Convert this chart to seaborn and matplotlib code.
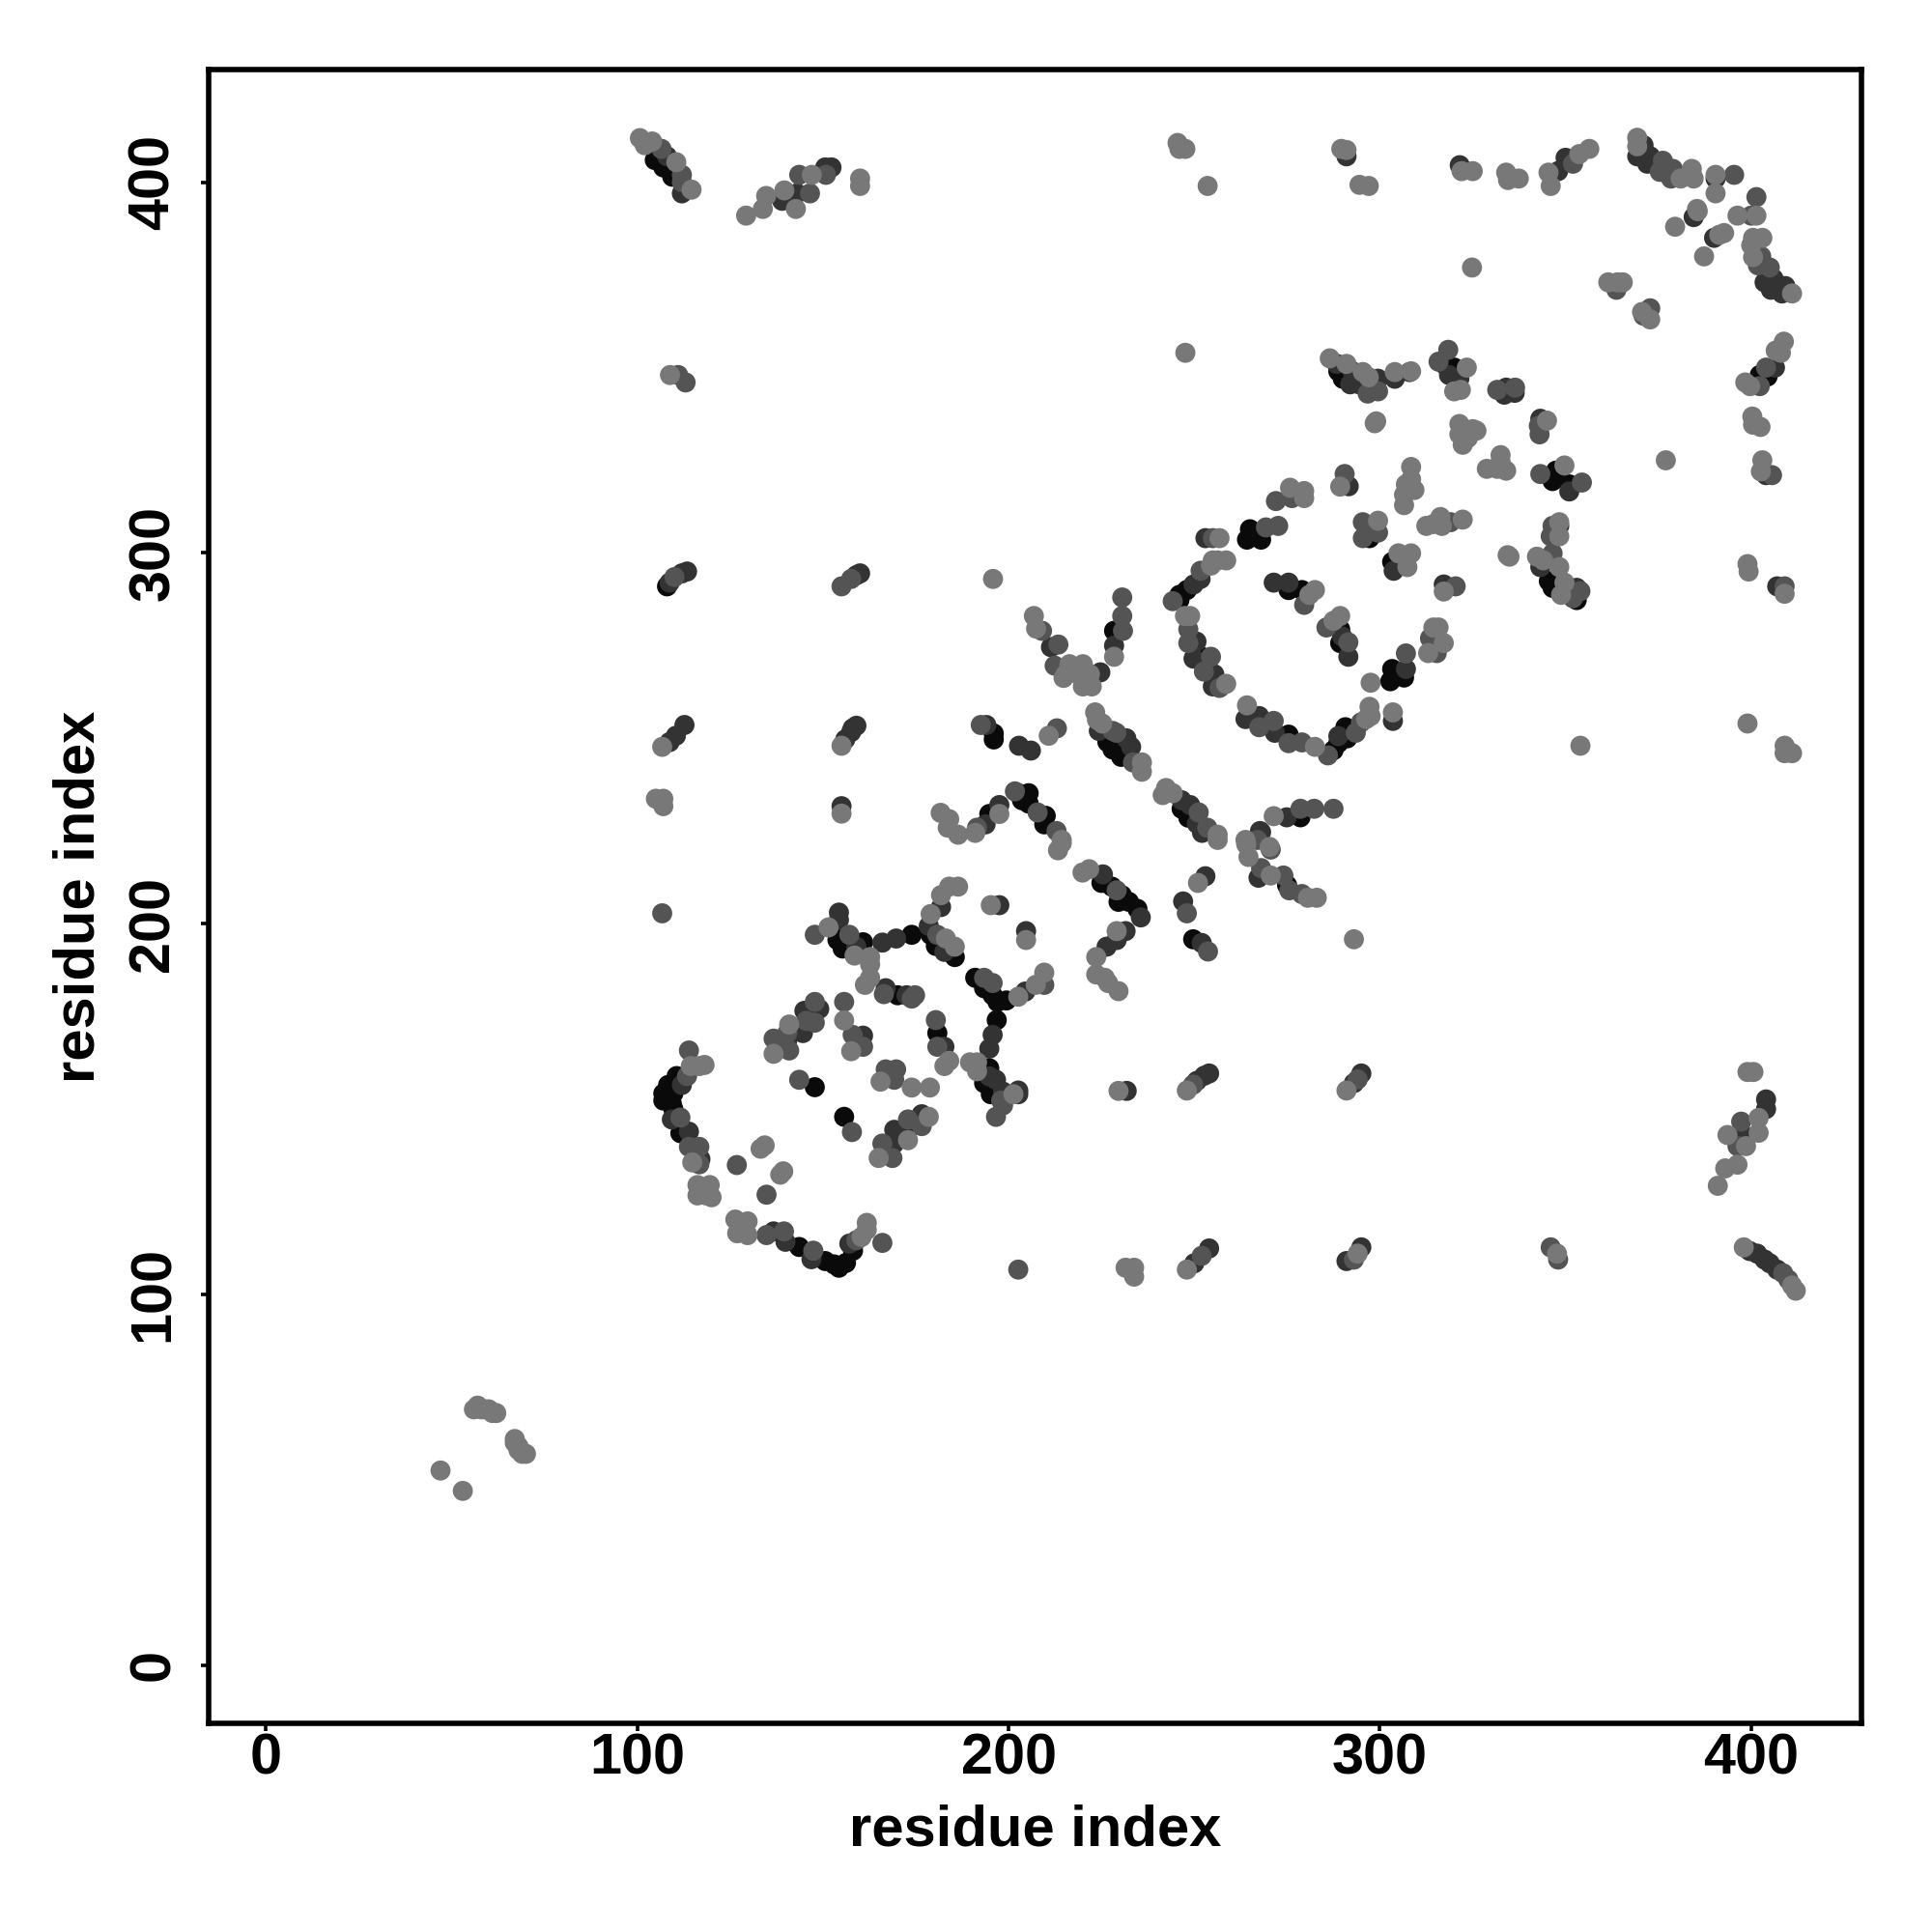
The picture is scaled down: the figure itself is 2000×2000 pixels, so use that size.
import matplotlib
matplotlib.use("Agg")
import matplotlib.pyplot as plt
import pandas as pd
import seaborn as sns

# grey levels of the points
K, D, M, G = 0.04, 0.2, 0.33, 0.47

low_x = [47, 53, 56, 57, 58, 59, 60, 61, 62, 67, 67, 68, 68, 69, 70]
low_y = [52.5, 47, 69, 70, 69, 69, 69, 68, 68, 61, 60, 59, 58, 57, 57]
low_s = [G, G, G, G, G, G, G, G, G, G, G, G, G, G, G]

# bottom arc
bot_x = [126.4, 129.7, 126.9, 129.7, 134.8, 136.7, 139.5, 139.9, 143.6, 147.4, 146.9, 150.6, 153, 154.3, 156.2, 158.1, 157.1, 159, 160.4, 161.8, 161.8, 166]
bot_y = [120.2, 119.7, 116.5, 116, 116, 117, 117, 114.2, 112.8, 111.8, 109.5, 109, 108.1, 107.2, 108.5, 111.8, 113.7, 114.6, 115.5, 117.4, 119.3, 113.9]
bot_s = [G, G, G, G, M, D, M, D, K, M, D, K, K, K, K, K, D, M, G, G, G, M]

# top row, left half
top_x = [100.7, 104, 102, 106.5, 104.7, 108, 107, 110.5, 109.4, 112, 112, 114.6, 112,
         129.3, 133.8, 134.7, 139, 139.6, 142.7, 143, 146.5, 143.6, 147, 150.8, 150.6, 152.3, 160, 160,
         245.5, 246, 247.6, 253.6, 247.6, 108.8, 111, 113,
         289.6, 291, 291, 294.5, 297, 321.5, 322, 325, 324.8, 334, 334.5, 337.4,
         345.4, 346, 348, 350, 352, 353.7, 356.4]
top_y = [411.9, 411, 410, 409, 406, 407, 404, 405.4, 401.5, 402, 397, 398, 400,
         391, 392.8, 396.3, 395, 397.8, 392.8, 397, 397, 402, 402, 402, 404, 404, 401, 399,
         410.6, 409, 409, 399, 354, 348, 348, 346,
         409, 408.7, 407, 399.3, 399, 404.6, 403, 403, 377, 402.6, 400.6, 401,
         402.6, 399, 403, 406.6, 405, 407.6, 409]
top_s = [G, G, G, M, K, D, K, G, K, M, D, G, M,
         G, G, G, D, G, G, D, M, M, G, M, D, D, G, G,
         G, G, G, G, G, G, M, M,
         G, G, D, G, G, D, G, G, G, G, G, G,
         G, G, D, D, M, G, G]

# top right corner
cor_x = [369.3, 369.3, 371, 369.3, 372.8, 372, 376.2, 375.4, 378.9, 378.4, 381, 384, 384.5, 384,
         390.4, 390.4, 390.4, 395.4, 401.4, 396.3, 400, 401.4, 379.5, 384.5, 385.4, 385.6, 387.3, 390, 391.4, 392.7,
         400.5, 403, 400, 400.5, 402.7, 401.8, 405, 403.6, 406, 405.3, 409.2, 408.3, 411,
         361.5, 363.7, 364, 365.4, 370.6, 372.8, 372.8, 371,
         408.8, 406.6, 408, 406.4, 404, 402.3, 404.4, 398.4, 399.7, 402.3, 400.3, 400.5, 402.5,
         377, 403, 402.6, 404, 405.6, 399, 399.3, 407, 409, 409, 399, 409, 409, 411, 354]
cor_y = [412, 409.7, 410, 407, 407, 405, 405.8, 402.8, 403.6, 401, 401, 403.6, 401, 402,
         402, 401, 397, 402, 396, 391, 391, 391, 388, 390.6, 392.8, 392.2, 380, 385, 385.8, 386.3,
         385, 385, 383, 379.8, 380, 377.6, 377, 373, 374, 371, 372, 370, 370,
         373, 371, 373, 373, 365, 366, 363, 364,
         357, 354.6, 354, 350, 350, 348, 347.6, 346, 345, 345, 336.8, 334.6, 334,
         325, 325, 322, 321, 321, 297, 295, 291, 291, 289, 254, 248, 246, 246, 248]
cor_s = [G, G, D, D, D, D, M, M, M, M, G, G, G, G,
         G, D, G, M, M, G, M, G, G, D, G, G, G, D, G, G,
         G, G, G, G, M, M, M, D, D, D, D, D, G,
         G, M, G, G, G, M, G, M,
         G, G, G, D, M, K, K, G, G, M, G, G, G,
         G, G, G, D, M, G, G, D, M, G, G, G, G, G, G]

# right block above the diagonal
rig_x = [286.5, 288.4, 288.8, 291, 290, 292.6, 292, 295.4, 294.4, 296.7, 297, 299.5, 299.5, 304, 304, 308, 308.4,
         299, 298.6, 315.8, 317.2, 318.4, 320, 318.6, 321.4, 323.4, 320, 321.8,
         331.6, 334, 333.5, 336.4, 336.3, 321.4, 321.4, 322.3, 325, 326, 323.7,
         332.5, 328.8, 331.6, 334, 332.5, 343.2, 342.8, 343, 345,
         343.2, 347.4, 346.5, 349.7, 351, 351, 354.4, 334.4, 334.9,
         348.3, 346.5, 348.3, 346, 348.3,
         342.3, 344, 343.2, 345.5, 346.5, 346.5, 348.3, 349.7, 348.8, 353, 353, 352, 354,
         317.2, 317.2, 320.4]
rig_y = [352.5, 351, 349, 351, 347, 349, 345.5, 348.8, 345.5, 343, 347.4, 347, 343.6, 348.8, 347, 348.8, 349,
         335.5, 335, 351.6, 351, 354.8, 350, 348, 347, 350, 343.6, 344,
         344, 344.6, 342.7, 344.6, 343.2, 334.8, 332, 329.2, 333.4, 333, 331,
         326.4, 322.7, 322.7, 322.2, 324.6, 336.2, 334.3, 332, 335.7,
         321.3, 322.2, 319.4, 323.6, 318.5, 316.6, 319, 299.4, 299,
         308.3, 307.3, 307.3, 304.5, 304.5,
         299, 298, 296.2, 292.4, 290.6, 299.9, 296.2, 292, 288.7, 287.3, 290.6, 287.8, 289.7,
         289.6, 291.5, 291]
rig_s = [G, D, K, G, K, D, D, G, D, M, G, D, M, G, D, D, G,
         G, G, M, K, M, K, D, D, G, G, G,
         M, D, D, M, D, G, G, G, G, G, G,
         G, G, G, G, G, D, M, M, G,
         M, K, K, G, K, D, M, G, G,
         G, M, D, M, G,
         G, G, D, K, K, M, G, G, G, K, D, M, M,
         G, D, M]

# ring around (280, 275)
rin_x = [244.2, 246, 248, 246, 249.8, 251.7, 251.7, 255, 254.5, 256.3, 258.6, 253, 255, 256.8,
         265, 264.2, 268, 269.3, 272.6, 272, 275.8, 276.3, 279.6, 279.6,
         289.3, 290.5, 291.6, 295.4, 295.4, 297.2, 299.5, 299.5,
         308.4, 307, 308.4, 306.5, 306.5, 309.3,
         312.5, 314.4, 316.3, 316.7, 319, 322.3, 303.3, 303.7, 305, 308.4, 307.4,
         247.5, 248.9, 248.4, 248.4, 250.6, 249.8, 252, 254.5, 252.6, 255.4, 255, 256.8, 258.6,
         263.8, 264.2, 267.5, 268, 271.4, 267.5, 271.7, 275.4, 275.4, 279, 282.5,
         286, 287.5, 288.8, 291.2, 290.7, 288.8, 293.5, 294.9, 296.3, 297.5, 297.2,
         303.5, 303.5, 297.5, 302.8, 303.3, 306.5, 307, 307,
         313, 315.3, 313.5, 317.2, 314.4, 315.8,
         271.4, 275.4, 275.4, 279, 279.6, 281, 282.5,
         285.6, 287.5, 289.3, 289.3, 289.8, 289.3, 291.5, 291.5]
rin_y = [287, 288.7, 290, 287.3, 291.5, 293, 295.2, 298, 296.6, 298, 298, 304, 304, 304,
         306.4, 303.6, 303.6, 306.9, 307.3, 314, 317.6, 314.8, 316.7, 314.8,
         317.9, 321.3, 318, 308.3, 304, 304, 308.7, 305.5,
         323.2, 318.5, 319.9, 315.7, 312.9, 317,
         307.3, 307.8, 309.7, 307.3, 308.3, 309, 297.6, 295.2, 299.9, 299.9, 296.2,
         283, 283, 279.4, 275.7, 276.1, 271.5, 272, 272, 268, 267.3, 264, 263.6, 264.7,
         255.2, 258.9, 256, 254.7, 254.7, 253, 251.5, 251, 248.7, 248.9, 247.7,
         245.4, 246.8, 248.7, 250, 253, 250.6, 251.5, 254.3, 255.2, 256, 258.5,
         254.7, 257, 265, 265.4, 268.7, 266.4, 268.7, 272.9,
         273, 273, 277, 275.7, 279.9, 279.9,
         292, 292, 290, 290, 286, 288.7, 290,
         279.9, 281.7, 283, 279.4, 277.5, 275.7, 275.9, 272]
rin_s = [M, K, K, K, D, D, M, G, G, G, G, D, M, G,
         K, K, K, M, M, M, G, M, G, G,
         G, M, D, M, M, K, G, M,
         G, G, G, G, G, G,
         G, G, G, G, M, G, K, D, G, G, G,
         G, G, M, M, D, D, K, M, M, D, D, M, G,
         D, G, D, K, M, M, D, K, M, M, G,
         M, K, K, K, K, D, M, M, G, G, G,
         D, G, G, K, K, K, D, M,
         G, M, M, G, G, G,
         D, D, K, K, M, G, G,
         M, G, G, K, D, K, M, D]

# middle of the diagonal
mid_x = [206.8, 207.4, 209, 211.4, 213.4, 212.4, 214.8, 217.4, 216.4, 220, 215.4, 218.7, 221.9, 220, 222.4, 224.7,
         230.6, 230.6, 230.8, 228.4, 228.4, 228.4,
         223.3, 223.8, 225.2, 224.3, 228, 226.6, 229, 228, 231.7, 230.3, 233, 233.5, 235.9, 235.9,
         242.4, 241.5, 244.2, 246.6, 246.6, 248.9, 248.4, 251.2, 250.7, 253.5, 252.1, 256.3, 256.3,
         271.4, 274.9, 278.6, 278.6, 282.3, 287.5, 267.7, 268, 263.8, 267, 264, 264.6, 270.3, 270.6, 268,
         270.6, 267.3, 274, 275, 275.6, 279, 283, 280.6,
         251, 253, 247, 248, 249.7, 252, 253.7, 293,
         181.7, 184, 183.6, 186.4, 191, 191.5, 193.8, 194.8, 197.5, 197.5,
         201.7, 202.6, 203.6, 205.4, 205.4, 207.8, 210, 209.6, 212.9, 214.3, 214.3, 213.3,
         219.9, 221.7, 225.4, 225, 227.8, 229.1, 230.5, 229.6, 232.4, 234.7, 235.6,
         231.5, 229.1, 229.1, 226.4, 223.6, 223.6, 225.9, 226.8, 229.6]
mid_y = [283, 279.6, 279, 274.6, 275.3, 269.6, 266.3, 268, 270, 270, 267.3, 267.3, 267.3, 264, 264, 267.8,
         288, 283, 279, 279, 275, 272,
         257, 255, 254, 252, 252, 249, 251.5, 247, 250, 245, 247.7, 243.5, 243.5, 241,
         236.6, 234.7, 235.2, 233.3, 231, 232, 228.6, 230, 227, 225.9, 224.5, 224, 222.6,
         229, 228.7, 228.7, 231, 231, 231, 225, 224.7, 222.6, 222.6, 221.4, 218, 220.7, 220, 215,
         213, 212.4, 213, 210.4, 209, 208, 207, 207,
         211, 212.8, 206, 202.8, 195.8, 194.8, 192.5, 195.8,
         229.9, 228.2, 225.9, 224, 224.5, 225.9, 226.8, 229.6, 232, 229.6,
         235.7, 235.2, 233.3, 235.2, 232.4, 230, 229.1, 226.8, 225, 222.6, 221.7, 219.8,
         213.8, 214.7, 213.3, 211, 210, 209, 207.7, 205.9, 205.9, 204, 201.7,
         198, 198, 195.6, 193.8, 191, 186.3, 185.4, 184, 181.8]
mid_s = [G, G, M, D, M, M, G, G, G, G, G, G, G, G, G, D,
         M, M, M, K, D, G,
         G, G, G, D, M, K, M, K, D, K, D, M, G, G,
         G, G, G, D, K, D, K, M, D, M, D, G, G,
         G, D, K, M, M, M, D, D, G, M, G, G, G, M, M,
         G, D, M, K, M, M, G, G,
         G, D, D, M, K, D, M, G,
         G, G, G, G, G, M, D, K, D, G,
         M, K, K, K, K, M, K, K, M, G, G, G,
         G, G, D, K, K, M, K, K, K, K, D,
         D, G, D, D, G, G, G, G, G]

# loop around (160, 165)
loo_x = [195.2, 197.5, 204.7, 204.7, 154.3, 154.3, 147.8, 151.5, 153.4, 153.9, 157.1, 155.3, 159, 160.8, 158.5, 162.7, 162.7,
         166, 169.7, 173.9, 179, 181.8, 181.8, 184, 186.4, 178.5, 179, 180.8, 183.1, 180.4, 185.5, 182.7, 185.5,
         191, 193.4, 193.4, 195.7, 195.7, 197, 199.4, 202.6, 204.5, 207.3, 209.6, 209.6,
         196.8, 195.7, 194.8, 194.8, 189.6, 191.5, 191.5, 194.8, 193.4, 196.6, 195.2, 198.5, 198, 201.3, 202.6, 202.6, 196.6, 198.5,
         180.4, 180.8, 180.8, 182.7, 182.7, 184,
         161.3, 162.7, 166.9, 166.4, 170.1, 172.5, 174.8, 173.9,
         155.7, 155.7, 158, 160.8, 160.8, 157.6,
         147.8, 149, 145, 145.5, 147.8, 140.9, 140.4, 144.6, 140.4, 136.7, 136.7, 140.9,
         143.6, 147.8, 155.7, 157.8,
         166.9, 169.7, 165.5, 169.2, 173.9, 178.8, 178.5, 176.6, 172.9, 176.6, 173.4, 169.2, 172.9, 169.2, 166, 168.7, 165,
         229.6, 231.8, 202.6, 231.5, 233.8, 233.8]
loo_y = [205, 205, 198, 195.6, 203, 201, 197, 199, 198.4, 195.6, 197, 193.3, 193.8, 195, 191.4, 191, 189,
         194.9, 196, 197, 202.6, 204.5, 207.7, 210, 210, 199.4, 197, 197, 196, 194, 193.8, 192.4, 191,
         185.4, 185.4, 182.6, 184, 180.7, 178.9, 179.3, 180.3, 181.7, 183.5, 183.5, 186.8,
         174, 170, 166.3, 161, 162.6, 162.6, 160.2, 158.8, 157, 157.9, 154, 154.7, 152.3, 154, 154, 155, 147.9, 151,
         174, 170.5, 166.8, 166.8, 161.6, 163,
         183.5, 185.4, 182.6, 181, 180.7, 180.7, 180.7, 179.8,
         178.9, 173.9, 170, 169.8, 166.8, 165.6,
         178.9, 177, 176.5, 173.8, 173.3, 172.8, 170.5, 170.5, 168.6, 169, 164.9, 165.8,
         157.9, 155.9, 147.9, 143.8,
         160.7, 160.7, 157.4, 157.9, 155.8, 155.8, 147.9, 148.6, 147.2, 145.4, 144.9, 144.4, 141.6, 140.7, 140.7, 136.8, 136.8,
         154.9, 154.9, 106.7, 107.2, 107.2, 104.8]
loo_s = [G, D, D, G, D, D, M, G, K, K, M, K, D, K, G, G, G,
         D, D, K, G, D, G, G, G, D, K, M, G, K, G, D, K,
         K, M, K, M, K, K, K, G, D, G, M, G,
         K, D, D, K, G, G, G, D, K, D, K, D, M, G, D, D, M, M,
         M, K, M, D, G, G,
         G, G, D, M, K, D, M, M,
         M, G, M, D, M, G,
         M, D, D, M, M, G, M, D, D, M, G, M,
         M, K, K, M,
         M, M, G, M, G, G, G, D, M, M, D, D, G, D, M, M, G,
         G, D, M, G, G, G]

# left arc
arc_x = [113.9, 118.1, 116.7, 114.4, 113.4, 110.6, 112, 108.3, 107, 109.7, 107, 109.3, 109.7, 109.3, 111.6, 113.9, 111.6,
         113.9, 116.7, 117, 114.8, 116.7, 116.2, 119.5, 116.2, 120, 118.6,
         126.8, 133.2, 134.3, 139.3, 138.5, 134.8]
arc_y = [165.8, 161.9, 161.6, 161.6, 158.9, 158.9, 156.5, 156.5, 154.2, 154.2, 152.3, 151.4, 150, 147.2, 147.7, 143.9, 143.5,
         139.8, 139.8, 136.5, 135.6, 135.1, 129.5, 129.5, 126.7, 126.2, 126.7,
         134.9, 139.3, 140.2, 133.2, 132.3, 126.9]
arc_s = [M, G, G, G, M, K, D, K, K, K, K, K, K, D, M, D, K,
         M, M, D, G, M, G, G, G, G, G,
         M, G, G, G, G, M]

# short off-diagonal strands
off_x = [108, 108.7, 110, 112, 113.4, 155, 157.6, 159, 160, 195.8,
         106.7, 108.7, 110.4, 112.7, 155, 156, 157.6, 158, 159,
         105, 107, 107, 155, 155, 106.7,
         192.5, 194, 196, 196, 202.8, 206, 210.8, 213,
         248, 249.7, 250.7, 252.7, 254, 291, 293, 294, 295,
         248, 250, 252, 254, 291, 293, 294, 295, 346, 347.7, 348,
         398, 399.6, 401.6, 403.6, 405, 407, 408.6, 410, 411, 412,
         391, 393, 396.3, 393.6, 397.6, 396.3, 398.6, 397.3, 402, 402, 404, 404, 399, 400.6]
off_y = [291, 292, 293.5, 294.5, 295, 291, 293, 294, 294.5, 293,
         247.7, 249, 250.7, 253.6, 248, 249.7, 251.7, 252.7, 253.4,
         233.7, 233.7, 231.7, 231.7, 229.7, 202.8,
         253.6, 253.6, 251.3, 249.7, 248, 246.7, 250.7, 252.7,
         155, 156.6, 157.6, 159, 159.6, 155, 157, 158, 159.6,
         106.7, 108.4, 110.4, 112.4, 109, 109.4, 111, 112.7, 112.7, 111, 109.4,
         112.7, 111.7, 111, 109.4, 108.4, 106.7, 105.7, 104, 102.4, 101,
         129.3, 134, 135, 143, 143.3, 140, 140, 146.6, 143.6, 147.6, 150, 152.6, 160, 160]
off_s = [K, D, M, D, D, M, M, D, D, G,
         G, D, D, D, G, D, D, D, D,
         G, G, G, D, G, M,
         M, D, K, K, D, D, G, M,
         G, M, D, D, D, G, D, M, D,
         G, D, M, D, D, M, G, D, M, G, M,
         G, D, D, D, D, D, M, M, G, G,
         G, G, G, G, D, M, G, M, G, G, D, D, G, G]

frames = []
for xs, ys, ss in [(low_x, low_y, low_s), (bot_x, bot_y, bot_s), (top_x, top_y, top_s),
                   (cor_x, cor_y, cor_s), (rig_x, rig_y, rig_s), (rin_x, rin_y, rin_s),
                   (mid_x, mid_y, mid_s), (loo_x, loo_y, loo_s), (arc_x, arc_y, arc_s),
                   (off_x, off_y, off_s)]:
    frames.append(pd.DataFrame({"x": xs, "y": ys, "shade": ss}))
contacts = pd.concat(frames, ignore_index=True)
# lighter points sit on top of the dark ones
contacts = contacts.sort_values("shade", kind="stable")

ticks = [0, 100, 200, 300, 400]

sns.set_style("white")
plt.rcParams["font.family"] = ["Liberation Sans", "DejaVu Sans"]
plt.rcParams["font.weight"] = "bold"

fig = plt.figure(figsize=(10, 10), dpi=200)
ax = fig.add_axes([216/2000, 1-1784/2000, (1927-216)/2000, (1784-72)/2000])

sns.scatterplot(
    data=contacts,
    x="x",
    y="y",
    hue="shade",
    palette="gray",
    hue_norm=(0, 1),
    s=56,
    linewidth=0,
    legend=False,
    ax=ax
)

ax.set_xlim(-15.45, 429.7)
ax.set_ylim(-15.7, 430.4)
ax.set_xticks(ticks)
ax.set_yticks(ticks)
ax.tick_params(axis="both", length=3, width=1.3, color="black", labelsize=21.4, direction="out",
               bottom=True, left=True, labelcolor="black")
ax.tick_params(axis="x", pad=0.5)
ax.tick_params(axis="y", pad=7.5)
for label in ax.get_yticklabels():
    label.set_rotation(90)
    label.set_va("center")
for spine in ax.spines.values():
    spine.set_visible(True)
    spine.set_color("black")
    spine.set_linewidth(2.0)

ax.set_xlabel("residue index", fontsize=21.5, fontweight="bold", color="black")
ax.set_ylabel("residue index", fontsize=21.5, fontweight="bold", color="black")
ax.xaxis.set_label_coords(0.5, -0.0647)
ax.yaxis.set_label_coords(-0.0785, 0.5)
ax.xaxis.label.set_va("center")
ax.yaxis.label.set_va("center")

fig.savefig("out.png", dpi=200)
